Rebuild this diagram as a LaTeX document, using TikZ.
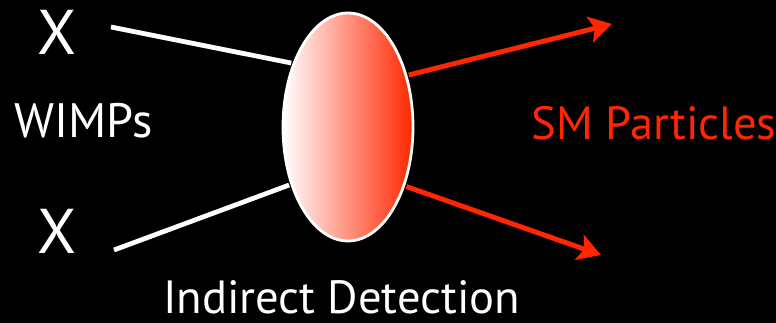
\documentclass[tikz,border=0pt]{standalone}
\usepackage{fontspec}
\setmainfont{PT Sans}
\usetikzlibrary{arrows.meta,shapes.geometric}
\definecolor{smred}{RGB}{255,38,0}

\begin{document}
\begin{tikzpicture}[x=0.02cm,y=-0.02cm,
  lbl/.style={anchor=base,inner sep=0pt,text=white,font=\fontsize{26.5}{30}\selectfont},
  xlbl/.style={lbl,font=\fontsize{36}{40}\selectfont},
  wimp/.style={white,line width=2.7pt,shorten >=0.8pt},
  smarrow/.style={smred,line width=2.8pt,shorten <=0.8pt,-{Stealth[length=13pt,width=15pt,inset=3pt]}}]
% black slide background
\fill[black] (0,0) rectangle (776,323);
\useasboundingbox (0,0) rectangle (776,323);
% annihilation blob, white to red
\node[ellipse,draw=white,line width=1.6pt,left color=white,right color=smred,
  minimum width=2.6cm,minimum height=4.56cm,inner sep=0pt] (blob) at (348,127) {};
% incoming WIMPs
\node[xlbl] (x1) at (57.5,55) {X};
\node[xlbl] (x2) at (57.5,254) {X};
\node[lbl,font=\fontsize{27.5}{30}\selectfont] (wimps) at (83.5,138) {WIMPs};
\coordinate (w1) at (111,27);
\coordinate (w2) at (114,250);
\draw[wimp] (w1) -- (blob.131);
\draw[wimp] (w2) -- (blob.225);
% outgoing SM particles
\coordinate (p1) at (612,24);
\coordinate (p2) at (601,255);
\draw[smarrow] (blob.41) -- (p1);
\draw[smarrow] (blob.314) -- (p2);
\node[lbl,text=smred] (sm) at (654,140) {SM Particles};
\node[lbl] (indirect) at (341.5,313.5) {Indirect Detection};
\end{tikzpicture}
\end{document}
